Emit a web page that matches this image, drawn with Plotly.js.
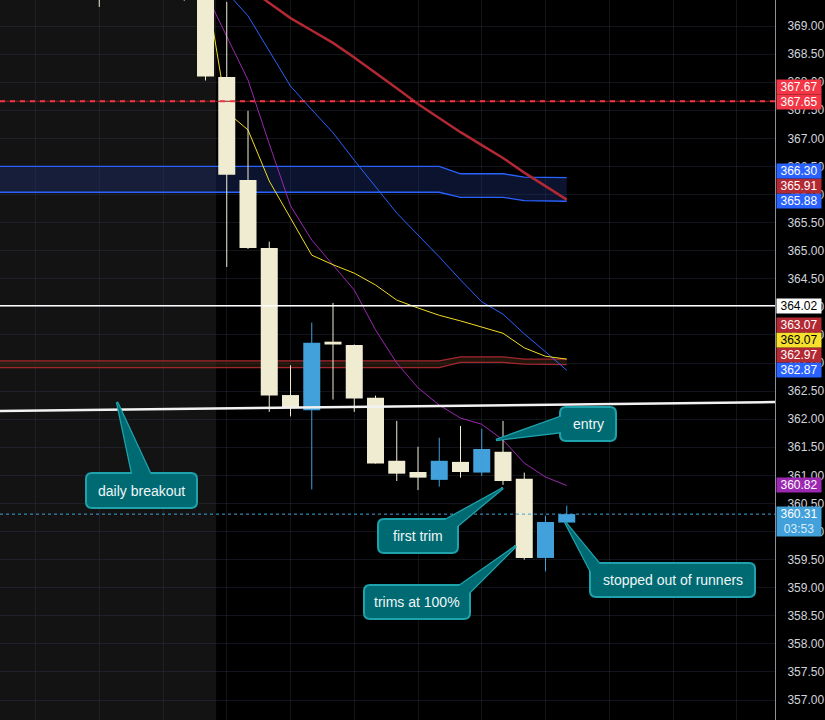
<!DOCTYPE html>
<html><head><meta charset="utf-8">
<script src="https://cdn.plot.ly/plotly-3.0.1.min.js"></script>
<style>html,body{margin:0;padding:0;background:#000;}#chart{width:825px;height:720px;}</style>
</head><body><div id="chart"></div>
<script>
// ---- candle data (index = bar number) ----
const candleIdx = [-5, -1, 0, 1, 2, 3, 4, 5, 6, 7, 8, 9, 10, 11, 12, 13, 14, 15, 16, 17];
const opens  = [369.90, 369.80, 369.80, 368.09, 366.26, 365.05, 362.43, 362.16, 363.38, 363.32, 362.38, 361.26, 361.06, 360.92, 361.24, 361.05, 361.42, 360.94, 359.53, 360.16];
const highs  = [370.20, 369.95, 369.90, 369.43, 367.49, 365.16, 362.96, 363.72, 364.07, 363.33, 362.42, 361.97, 361.51, 361.67, 361.88, 361.83, 361.97, 361.05, 360.28, 360.46];
const lows   = [369.34, 369.45, 368.03, 364.71, 365.03, 362.13, 362.05, 360.75, 362.35, 362.13, 361.21, 360.90, 360.74, 360.80, 360.96, 360.99, 360.83, 359.50, 359.29, 360.15];
const closes = [369.70, 369.60, 368.10, 366.35, 365.05, 362.42, 362.21, 363.36, 363.33, 362.37, 361.21, 361.03, 360.96, 361.26, 361.06, 361.47, 360.90, 359.53, 360.17, 360.31];

// ---- moving averages ----
const maIdx    = [0, 1, 2, 3, 4, 5, 6, 7, 8, 9, 10, 11, 12, 13, 14, 15, 16, 17];
const maRed    = [370.20, 369.95, 369.68, 369.41, 369.14, 368.92, 368.70, 368.44, 368.17, 367.89, 367.61, 367.36, 367.11, 366.88, 366.65, 366.39, 366.15, 365.91];
const maBlue   = [370.10, 369.60, 369.18, 368.55, 367.93, 367.51, 367.10, 366.61, 366.13, 365.67, 365.28, 364.89, 364.48, 364.09, 363.87, 363.52, 363.20, 362.87];
const maPurple = [369.59, 368.82, 368.04, 366.90, 365.80, 365.19, 364.75, 364.30, 363.59, 363.00, 362.56, 362.25, 362.02, 361.91, 361.63, 361.22, 360.97, 360.82];
const maYellow = [369.77, 367.47, 367.15, 366.24, 365.58, 364.92, 364.75, 364.60, 364.39, 364.12, 363.98, 363.85, 363.75, 363.64, 363.53, 363.27, 363.12, 363.07];

// ---- bands ----
const bandIdx        = [-11, 11, 12, 14, 15, 17];
const blueBandTop    = [366.50, 366.50, 366.37, 366.37, 366.31, 366.30];
const blueBandBottom = [366.04, 366.04, 365.95, 365.95, 365.89, 365.88];
const brownBandTop   = [363.04, 363.04, 363.11, 363.11, 363.07, 363.07];
const brownBandBottom= [362.92, 362.92, 363.01, 363.01, 362.98, 362.97];

// ---- levels ----
const redLevel = 367.66;
const whiteLevel = 364.02;
const trendStart = [-11, 362.140];
const trendEnd   = [28, 362.310];
const lastPrice = closes[closes.length - 1];
const countdown = '03:53';

// ---- right scale labels ----
const labelValues = [362.87, 362.97, 363.07, 363.07, 364.02, 365.88, 365.91, 366.30, 367.65, 367.67];
const labelTexts  = ['362.87', '362.97', '363.07', '363.07', '364.02', '365.88', '365.91', '366.30', '367.65', '367.67'];
const labelBg     = ['#2962ff', '#b22833', '#f7e12c', '#b22833', '#ffffff', '#2962ff', '#b22833', '#2962ff', '#f23645', '#f23645'];
const labelFg     = ['#ffffff', '#ffffff', '#000000', '#ffffff', '#000000', '#ffffff', '#ffffff', '#ffffff', '#ffffff', '#ffffff'];

// ---- callouts ----
const callTexts = ['daily breakout', 'entry', 'first trim', 'trims at 100%', 'stopped out of runners'];

// ---- layout geometry ----
const W = 775, H = 720;
const xRange = [-9.671, 26.800];
const yRange = [356.645, 369.463];
const px2x = p => xRange[0] + p / W * (xRange[1] - xRange[0]);
const py2y = p => yRange[1] - p / H * (yRange[1] - yRange[0]);
const y2py = v => (yRange[1] - v) / (yRange[1] - yRange[0]) * H;

const callBoxes = [[86,473,197,508],[560,407,616,441],[378,519,458,553],[364,585,470,619],[590,563,755,597]];
const callTips  = [[117,402],[496,440],[503,488],[516,546],[565,522]];
const callEdges = [[[132,473],[150,473]],[[560,417],[562,432]],[[447,519],[456,527]],[[462,584],[469,593]],[[591,572],[598,562]]];

const CREAM = '#f0ecd2', BLUE = '#42a0da';
const FONT = 'Liberation Sans, Arial, sans-serif';
const traces = [];
// blue band
traces.push({x: bandIdx, y: blueBandBottom, mode: 'lines', line: {color: '#2962ff', width: 1.3}, hoverinfo: 'skip', showlegend: false});
traces.push({x: bandIdx, y: blueBandTop, mode: 'lines', line: {color: '#2962ff', width: 1.3}, fill: 'tonexty', fillcolor: 'rgba(28,50,120,0.38)', hoverinfo: 'skip', showlegend: false});
// brown band
traces.push({x: bandIdx, y: brownBandBottom, mode: 'lines', line: {color: '#a3262f', width: 1.3}, hoverinfo: 'skip', showlegend: false});
traces.push({x: bandIdx, y: brownBandTop, mode: 'lines', line: {color: '#a3262f', width: 1.3}, fill: 'tonexty', fillcolor: 'rgba(60,38,20,0.55)', hoverinfo: 'skip', showlegend: false});
// MAs
traces.push({x: maIdx, y: maRed, mode: 'lines', line: {color: '#b22833', width: 2.5}, hoverinfo: 'skip', showlegend: false});
traces.push({x: maIdx, y: maBlue, mode: 'lines', line: {color: '#2962ff', width: 1}, hoverinfo: 'skip', showlegend: false});
traces.push({x: maIdx, y: maPurple, mode: 'lines', line: {color: '#9c27b0', width: 1}, hoverinfo: 'skip', showlegend: false});
traces.push({x: maIdx, y: maYellow, mode: 'lines', line: {color: '#f2dc22', width: 1}, hoverinfo: 'skip', showlegend: false});

// candles on an overlaid subplot so they sit above the lines
const isUp = closes.map((c, i) => c >= opens[i]);
const colors = isUp.map(u => u ? BLUE : CREAM);
const bodyBase = closes.map((c, i) => Math.min(c, opens[i]));
const bodyLen = closes.map((c, i) => Math.max(Math.abs(c - opens[i]), 0.02));
['up', 'down'].forEach(dir => {
  const wx = [], wy = [];
  candleIdx.forEach((x, i) => {
    if ((dir === 'up') === isUp[i]) { wx.push(x, x, null); wy.push(lows[i], highs[i], null); }
  });
  traces.push({x: wx, y: wy, xaxis: 'x2', yaxis: 'y2', mode: 'lines', line: {color: dir === 'up' ? BLUE : CREAM, width: 1},
    hoverinfo: 'skip', showlegend: false});
});
traces.push({type: 'bar', x: candleIdx, base: bodyBase, y: bodyLen, width: 0.8, xaxis: 'x2', yaxis: 'y2',
  marker: {color: colors, line: {width: 0}}, hoverinfo: 'skip', showlegend: false});

const shapes = [];
shapes.push({type: 'rect', xref: 'x', yref: 'paper', x0: -12, x1: 0.5, y0: 0, y1: 1, fillcolor: '#131313', line: {width: 0}, layer: 'below'});
shapes.push({type: 'line', xref: 'paper', yref: 'y', x0: 0, x1: 1, y0: redLevel, y1: redLevel, line: {color: '#8a1f28', width: 1}});
shapes.push({type: 'line', xref: 'paper', yref: 'y', x0: 0, x1: 1, y0: redLevel, y1: redLevel, line: {color: '#f23645', width: 2, dash: '5px,5px'}});
shapes.push({type: 'line', xref: 'paper', yref: 'y', x0: 0, x1: 1, y0: whiteLevel, y1: whiteLevel, line: {color: '#ffffff', width: 1.5}});
shapes.push({type: 'line', xref: 'x', yref: 'y', x0: trendStart[0], y0: trendStart[1], x1: trendEnd[0], y1: trendEnd[1], line: {color: '#f2f2f2', width: 2.5}});
shapes.push({type: 'line', xref: 'paper', yref: 'y', x0: 0, x1: 1, y0: lastPrice, y1: lastPrice, line: {color: BLUE, width: 1, dash: 'dot'}});

const P = (px, py) => px2x(px).toFixed(4) + ',' + py2y(py).toFixed(4);
const FILL = '#006a73', BORDER = '#1ea3ad';
const annotations = [];
callTexts.forEach((t, k) => {
  const [x0, y0, x1, y1] = callBoxes[k];
  const [tx, ty] = callTips[k];
  const ext = e => [tx + (e[0] - tx) * 1.18, ty + (e[1] - ty) * 1.18];
  const b1 = ext(callEdges[k][0]), b2 = ext(callEdges[k][1]);
  const wedge = 'M' + P(b1[0], b1[1]) + ' L' + P(tx, ty) + ' L' + P(b2[0], b2[1]) + ' Z';
  const r = 6;
  const box = 'M' + P(x0 + r, y0) + ' L' + P(x1 - r, y0) + ' Q' + P(x1, y0) + ' ' + P(x1, y0 + r) +
    ' L' + P(x1, y1 - r) + ' Q' + P(x1, y1) + ' ' + P(x1 - r, y1) +
    ' L' + P(x0 + r, y1) + ' Q' + P(x0, y1) + ' ' + P(x0, y1 - r) +
    ' L' + P(x0, y0 + r) + ' Q' + P(x0, y0) + ' ' + P(x0 + r, y0) + ' Z';
  shapes.push({type: 'path', xref: 'x', yref: 'y', path: wedge, fillcolor: FILL, line: {color: BORDER, width: 2.5}, layer: 'above'});
  shapes.push({type: 'path', xref: 'x', yref: 'y', path: box, fillcolor: FILL, line: {color: BORDER, width: 2}, layer: 'above'});
  shapes.push({type: 'path', xref: 'x', yref: 'y', path: wedge, fillcolor: FILL, line: {width: 0}, layer: 'above'});
  annotations.push({xref: 'x', yref: 'y', x: px2x((x0 + x1) / 2), y: py2y((y0 + y1) / 2), text: t, showarrow: false,
    font: {family: FONT, size: 14, color: '#eef6f6'}});
});

// right scale labels with stacking (bottom to top)
let prevPx = Infinity;
labelValues.forEach((v, k) => {
  const actual = y2py(v);
  const shown = Math.min(actual, prevPx - 15);
  prevPx = shown;
  annotations.push({xref: 'paper', yref: 'y', x: 1, xanchor: 'left', xshift: 1, y: v, yshift: actual - shown,
    text: labelTexts[k], showarrow: false, bgcolor: labelBg[k], width: 44, height: 14, borderpad: 0,
    font: {family: FONT, size: 12, color: labelFg[k]}});
});
annotations.push({xref: 'paper', yref: 'y', x: 1, xanchor: 'left', xshift: 1, y: 360.82, text: '360.82', showarrow: false,
  bgcolor: '#9c27b0', width: 44, height: 14, borderpad: 0, font: {family: FONT, size: 12, color: '#ffffff'}});
annotations.push({xref: 'paper', yref: 'y', x: 1, xanchor: 'left', xshift: 1, y: lastPrice, yanchor: 'top', yshift: 8,
  text: lastPrice.toFixed(2) + '<br><span style="color:#d8ecfa">' + countdown + '</span>', showarrow: false,
  bgcolor: BLUE, width: 44, height: 29, borderpad: 0, font: {family: FONT, size: 12, color: '#ffffff'}});

const hiddenAxis = {visible: false, fixedrange: true, showgrid: false, zeroline: false};
const layout = {
  width: 825, height: 720,
  margin: {l: 0, r: 50, t: 0, b: 0, pad: 0},
  paper_bgcolor: '#000000', plot_bgcolor: '#000000',
  showlegend: false, hovermode: false, barmode: 'overlay',
  xaxis: {range: xRange, showticklabels: false, ticks: '', showgrid: true, gridcolor: 'rgba(48,56,78,0.35)', gridwidth: 1,
    tick0: 1, dtick: 3, zeroline: false, showline: false, fixedrange: true},
  yaxis: {side: 'right', range: yRange, tick0: 357, dtick: 0.5, tickformat: '.2f', showgrid: true, gridcolor: 'rgba(48,56,78,0.35)',
    zeroline: false, showline: true, linecolor: '#8e919a', linewidth: 1, ticks: '', ticklabelstandoff: 9,
    tickfont: {family: FONT, size: 12, color: '#d1d4dc'}, fixedrange: true},
  xaxis2: Object.assign({overlaying: 'x', range: xRange}, hiddenAxis),
  yaxis2: Object.assign({overlaying: 'y', range: yRange, side: 'right'}, hiddenAxis),
  shapes: shapes, annotations: annotations
};
Plotly.newPlot('chart', traces, layout, {staticPlot: true, displayModeBar: false});
</script>
</body></html>
